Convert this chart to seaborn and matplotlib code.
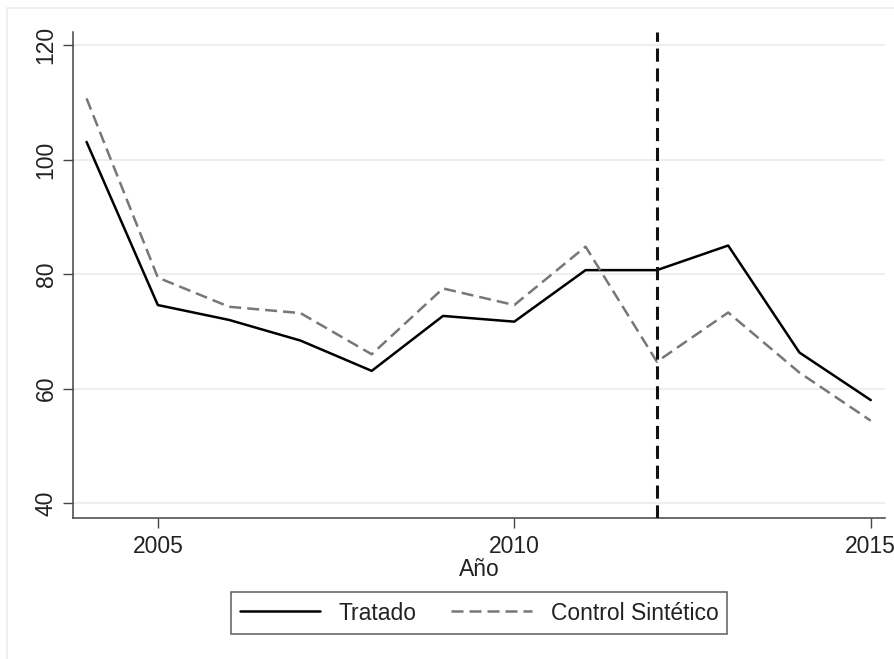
import matplotlib
matplotlib.use("Agg")
import matplotlib.pyplot as plt
from matplotlib.patches import Rectangle
import seaborn as sns
import pandas as pd

# Series values by year
years = [2004, 2005, 2006, 2007, 2008, 2009, 2010, 2011, 2012, 2013, 2014, 2015]
tratado = [103.1, 74.6, 72.0, 68.4, 63.1, 72.7, 71.7, 80.7, 80.7, 85.0, 66.3, 58.0]
control_sintetico = [110.7, 79.4, 74.3, 73.2, 66.0, 77.5, 74.6, 84.8, 64.7, 73.3, 62.8, 54.4]
treatment_year = 2012

x_ticks = [2005, 2010, 2015]
y_ticks = [40, 60, 80, 100, 120]
series_names = ["Tratado", "Control Sintético"]

sns.set_style("white")
plt.rcParams["font.family"] = ["Liberation Sans", "DejaVu Sans"]
text_color = "#222222"
fs = 16.5

df = pd.DataFrame({
    "Año": years * 2,
    "valor": tratado + control_sintetico,
    "serie": [series_names[0]] * len(years) + [series_names[1]] * len(years),
})

fig = plt.figure(figsize=(8.95, 6.59), dpi=100)
fig.patch.set_facecolor("white")
# faint outer graph-region frame
fig.add_artist(Rectangle((7 / 895, -0.1), 1.2, 1 - 8 / 659 + 0.1,
                         transform=fig.transFigure, fill=False,
                         edgecolor="#ececec", linewidth=1.2))

ax = fig.add_axes([73 / 895, 1 - 518 / 659, (885 - 73) / 895, (518 - 32) / 659])

sns.lineplot(data=df[df["serie"] == series_names[0]], x="Año", y="valor",
             color="black", linewidth=1.8, ax=ax, label=series_names[0])
sns.lineplot(data=df[df["serie"] == series_names[1]], x="Año", y="valor",
             color="#777777", linewidth=1.8, linestyle=(0, (4.8, 2.4)), ax=ax,
             label=series_names[1])

ax.axvline(treatment_year, color="#111111", linewidth=2.2,
           linestyle=(0, (4.3, 2.2)), zorder=3)

ax.set_xlim(2003.81, 2015.2)
ax.set_ylim(37.4, 122.3)
ax.set_xticks(x_ticks)
ax.set_yticks(y_ticks)
ax.set_xticklabels([str(t) for t in x_ticks], fontsize=fs, color=text_color)
ax.set_yticklabels([str(t) for t in y_ticks], fontsize=fs, color=text_color,
                   rotation=90, va="center")

ax.yaxis.grid(True, color="#eeeeee", linewidth=1.5)
ax.set_axisbelow(True)
for side in ["top", "right"]:
    ax.spines[side].set_visible(False)
for side in ["left", "bottom"]:
    ax.spines[side].set_color("#444444")
    ax.spines[side].set_linewidth(1.1)
ax.tick_params(axis="both", direction="out", length=7, width=1.0,
               color="#444444", left=True, bottom=True)
ax.tick_params(axis="x", pad=5)
ax.tick_params(axis="y", pad=4)

ax.set_ylabel("")
ax.set_xlabel("Año", fontsize=fs, color=text_color)
ax.xaxis.set_label_coords(0.5, -0.082)

ax.get_legend().remove()
handles, labels = ax.get_legend_handles_labels()
leg = fig.legend(handles, labels, loc="center", ncol=2,
                 bbox_to_anchor=(479 / 895, 1 - 613 / 659),
                 fontsize=fs, frameon=True, fancybox=False,
                 handlelength=3.5, handletextpad=0.83, columnspacing=1.5,
                 borderpad=0.4)
leg.get_frame().set_edgecolor("#333333")
leg.get_frame().set_linewidth(1.1)
for t in leg.get_texts():
    t.set_color(text_color)

fig.savefig("out.png", dpi=100, facecolor="white")
